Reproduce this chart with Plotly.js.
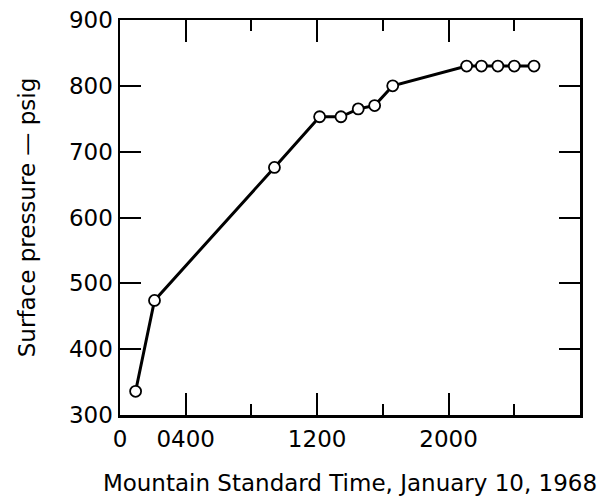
<!DOCTYPE html>
<html>
<head>
<meta charset="utf-8">
<script src="https://cdn.plot.ly/plotly-3.0.1.min.js"></script>
<style>html,body{margin:0;padding:0;background:#fff;}#chart{width:610px;height:497px;}</style>
</head>
<body>
<div id="chart"></div>
<script>
// Hours after midnight, January 10, 1968 (Mountain Standard Time)
var timeHours = [0.95, 2.1, 9.4, 12.15, 13.45, 14.5, 15.5, 16.6, 21.1, 22.0, 23.0, 24.0, 25.2];
// Surface pressure, psig
var pressure = [336, 474, 676, 753, 753, 765, 770, 800, 830, 830, 830, 830, 830];
var xTickVals = [0, 4, 12, 20];
var xTickText = ["0", "0400", "1200", "2000"];

var FONT = "DejaVu Sans, sans-serif";
var FS = 23;
var trace = {
  x: timeHours, y: pressure, type: "scatter", mode: "lines+markers",
  line: {color: "#000", width: 3},
  marker: {symbol: "circle", size: 11, color: "#fff", line: {color: "#000", width: 1.8}},
  cliponaxis: false, hoverinfo: "skip"
};
var layout = {
  width: 610, height: 497,
  margin: {l: 120, r: 30, t: 20, b: 82},
  paper_bgcolor: "#fff", plot_bgcolor: "#fff",
  showlegend: false,
  font: {family: FONT, size: FS, color: "#000"},
  xaxis: {
    range: [0, 28], showgrid: false, zeroline: false,
    showline: true, linecolor: "#000", linewidth: 2.5, mirror: "allticks",
    ticks: "inside", ticklen: 22, tickwidth: 2, tickcolor: "#000",
    tickmode: "array", tickvals: xTickVals, ticktext: xTickText,
    ticklabelstandoff: 2,
    minor: {ticks: "inside", dtick: 4, tick0: 0, ticklen: 11, tickwidth: 2, tickcolor: "#000", showgrid: false},
    tickfont: {family: FONT, size: FS, color: "#000"},
    title: {text: "Mountain Standard Time, January 10, 1968", font: {family: FONT, size: FS, color: "#000"}, standoff: 24}
  },
  yaxis: {
    range: [300, 900], showgrid: false, zeroline: false,
    showline: true, linecolor: "#000", linewidth: 2.5, mirror: "allticks",
    ticks: "inside", ticklen: 21, tickwidth: 2, tickcolor: "#000",
    tickmode: "linear", tick0: 300, dtick: 100,
    ticklabelstandoff: 0,
    tickfont: {family: FONT, size: FS, color: "#000"},
    title: {text: "Surface pressure — psig", font: {family: FONT, size: FS, color: "#000"}, standoff: 27}
  }
};
Plotly.newPlot("chart", [trace], layout, {displayModeBar: false, staticPlot: true});
</script>
</body>
</html>
